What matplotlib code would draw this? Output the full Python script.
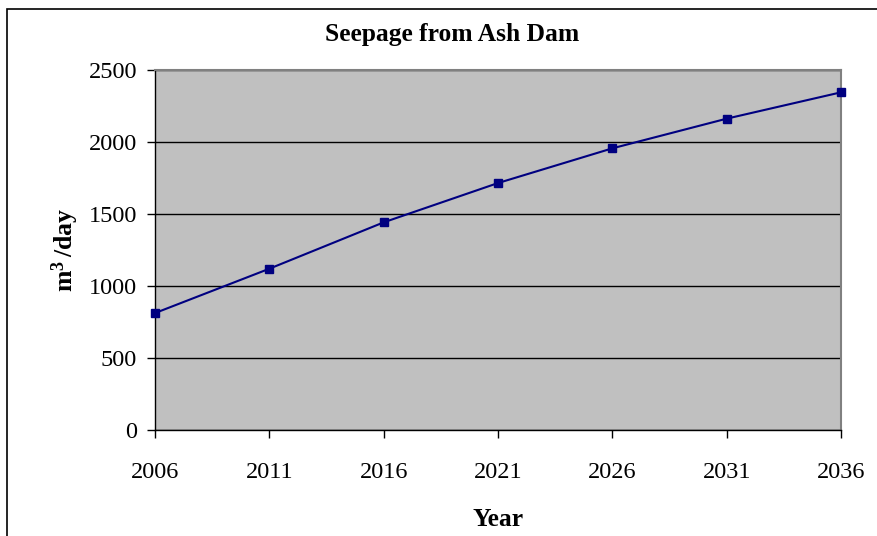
import matplotlib
matplotlib.use("Agg")
import matplotlib.pyplot as plt
from matplotlib.patches import Rectangle

# --- Data
years = [2006, 2011, 2016, 2021, 2026, 2031, 2036]
seepage = [812, 1120, 1442, 1715, 1956, 2162, 2345]
yticks = [0, 500, 1000, 1500, 2000, 2500]

plt.rcParams['font.family'] = ['Liberation Serif', 'DejaVu Serif']
plt.rcParams['mathtext.fontset'] = 'custom'
plt.rcParams['mathtext.rm'] = 'Liberation Serif'
plt.rcParams['mathtext.bf'] = 'Liberation Serif:bold'

fig = plt.figure(figsize=(8.78, 5.36), dpi=100)
ax = fig.add_axes([155 / 878, 1 - 430 / 536, 686 / 878, 360 / 536])

# --- outer chart border (right/bottom edges are cut off in the original)
fig.patches.append(Rectangle((7 / 878, -0.1), 1.2, 1 - 9 / 536 + 0.1,
                             transform=fig.transFigure, fill=False,
                             edgecolor='black', linewidth=1.2))

ax.set_facecolor('#C0C0C0')
ax.plot(years, seepage, color='#000080', linewidth=1.5, marker='s',
        markersize=6, clip_on=False, zorder=3)

ax.set_xlim(2006, 2036)
ax.set_ylim(0, 2500)
ax.set_xticks(years)
ax.set_yticks(yticks)
ax.yaxis.grid(True, color='black', linewidth=1.0)
ax.set_axisbelow(True)

for s in ['top', 'right']:
    ax.spines[s].set_color('#808080')
    ax.spines[s].set_linewidth(1.5)
for s in ['left', 'bottom']:
    ax.spines[s].set_color('black')
    ax.spines[s].set_linewidth(1.0)

ax.tick_params(axis='both', direction='out', length=6, width=1,
               labelsize=17.5, color='black')
ax.tick_params(axis='x', pad=17)
ax.tick_params(axis='y', pad=7)

# title is centred on the whole chart box, not on the plot area
fig.text(452 / 878, 1 - 34 / 536, "Seepage from Ash Dam", fontsize=18.4,
         fontweight='bold', ha='center', va='center')
ax.set_xlabel("Year", fontsize=18.4, fontweight='bold', labelpad=18)
ax.set_ylabel(r"$\mathbf{m^{3}\,/day}$", fontsize=18.5, labelpad=5)

fig.savefig("out.png", dpi=100)
